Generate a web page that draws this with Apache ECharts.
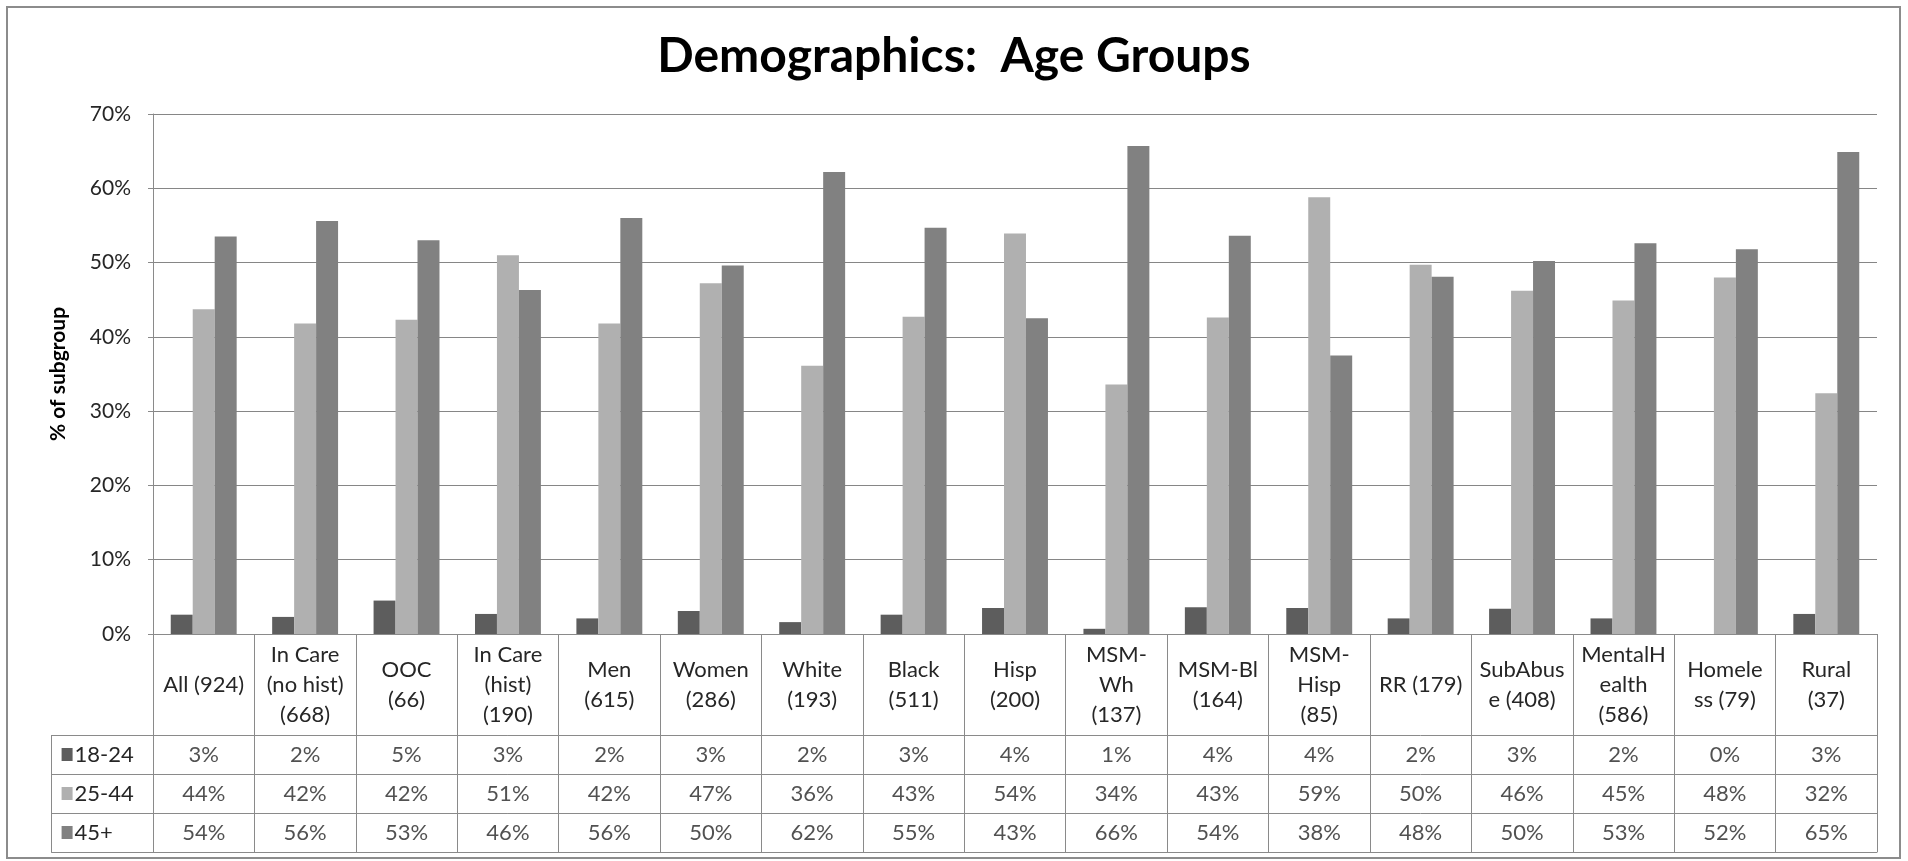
<!DOCTYPE html>
<html>
<head>
<meta charset="utf-8">
<script src="https://cdn.jsdelivr.net/npm/echarts@6/dist/echarts.min.js"></script>
<style>
  html, body { margin: 0; padding: 0; background: #ffffff; }
  #chart { width: 1908px; height: 861px; }
</style>
</head>
<body>
<div id="chart"></div>
<script>
// ---- Data ----
const categories = ['All (924)', 'In Care\n(no hist)\n(668)', 'OOC\n(66)', 'In Care\n(hist)\n(190)', 'Men\n(615)',
  'Women\n(286)', 'White\n(193)', 'Black\n(511)', 'Hisp\n(200)', 'MSM-\nWh\n(137)', 'MSM-Bl\n(164)',
  'MSM-\nHisp\n(85)', 'RR (179)', 'SubAbus\ne (408)', 'MentalH\nealth\n(586)', 'Homele\nss (79)', 'Rural\n(37)'];
const seriesNames = ['18-24', '25-44', '45+'];
const age18_24 = [2.6, 2.3, 4.5, 2.7, 2.1, 3.1, 1.6, 2.6, 3.5, 0.7, 3.6, 3.5, 2.1, 3.4, 2.1, 0, 2.7];
const age25_44 = [43.7, 41.8, 42.3, 51.0, 41.8, 47.2, 36.1, 42.7, 53.9, 33.6, 42.6, 58.8, 49.7, 46.2, 44.9, 48.0, 32.4];
const age45plus = [53.5, 55.6, 53.0, 46.3, 56.0, 49.6, 62.2, 54.7, 42.5, 65.7, 53.6, 37.5, 48.1, 50.2, 52.6, 51.8, 64.9];
const yTicks = { min: 0, max: 70, interval: 10 };
const titleText = 'Demographics:  Age Groups';
const yAxisTitle = '% of subgroup';

// ---- Styles ----
const colors = ['#5d5d5d', '#b0b0b0', '#818181'];
const FONT = 'Lato';
const textColor = '#262626';
const lineColor = '#8a8a8a';

const allSeriesValues = [age18_24, age25_44, age45plus];

const chart = echarts.init(document.getElementById('chart'), null, { renderer: 'canvas' });

const plotLeft = 153, plotRight = 31, plotTop = 114, plotBottomY = 634;
const headerH = 101, rowH = 39;
const colW = (1908 - plotLeft - plotRight) / categories.length;

const barSeries = seriesNames.map((name, i) => ({
  name: name,
  type: 'bar',
  xAxisIndex: 0,
  yAxisIndex: 0,
  data: allSeriesValues[i],
  barGap: '0%',
  barCategoryGap: '35%',
  itemStyle: { color: colors[i] },
  silent: true
}));

const tableSeries = seriesNames.map((name, i) => ({
  name: name + ' table',
  type: 'scatter',
  xAxisIndex: 1,
  yAxisIndex: 1,
  symbolSize: 1,
  itemStyle: { color: 'rgba(0,0,0,0)' },
  data: allSeriesValues[i].map((v, c) => [c + 0.5, name, v]),
  label: {
    show: true,
    position: 'inside',
    formatter: p => Math.round(p.value[2]) + '%',
    fontFamily: FONT,
    fontSize: 22,
    color: textColor
  },
  silent: true
}));

const rich = { t: { fontFamily: FONT, fontSize: 22, color: textColor, padding: [0, 0, 0, 2] } };
seriesNames.forEach((n, i) => { rich['k' + i] = { width: 11, height: 13, backgroundColor: colors[i] }; });

const option = {
  backgroundColor: '#ffffff',
  animation: false,
  title: {
    text: titleText,
    left: 'center',
    top: 28,
    textStyle: { fontFamily: FONT, fontSize: 48, fontWeight: 'bold', color: '#000000' }
  },
  grid: [
    { left: plotLeft, right: plotRight, top: plotTop, height: plotBottomY - plotTop, containLabel: false },
    { left: plotLeft - colW, right: plotRight, top: plotBottomY + headerH, height: rowH * 3, containLabel: false }
  ],
  xAxis: [
    {
      type: 'category',
      gridIndex: 0,
      data: categories,
      boundaryGap: true,
      axisLine: { show: true, lineStyle: { color: lineColor, width: 1 } },
      axisTick: { show: true, interval: 0, length: headerH, lineStyle: { color: lineColor, width: 1 } },
      axisLabel: {
        interval: 0,
        margin: headerH / 2,
        verticalAlign: 'middle',
        align: 'center',
        fontFamily: FONT,
        fontSize: 22,
        lineHeight: 30,
        color: textColor
      },
      splitLine: { show: false }
    },
    {
      type: 'value',
      gridIndex: 1,
      min: -1,
      max: categories.length,
      interval: 1,
      axisLine: { show: true, lineStyle: { color: lineColor } },
      axisTick: { show: false },
      axisLabel: { show: false },
      splitLine: { show: true, lineStyle: { color: lineColor, width: 1 } }
    }
  ],
  yAxis: [
    {
      type: 'value',
      gridIndex: 0,
      min: yTicks.min,
      max: yTicks.max,
      interval: yTicks.interval,
      name: yAxisTitle,
      nameLocation: 'middle',
      nameRotate: 90,
      nameGap: 84,
      nameTextStyle: { fontFamily: FONT, fontSize: 21, fontWeight: 'bold', color: '#000000' },
      axisLine: { show: true, lineStyle: { color: lineColor } },
      axisTick: { show: true, length: 5, lineStyle: { color: lineColor } },
      axisLabel: { formatter: '{value}%', fontFamily: FONT, fontSize: 21, color: textColor, margin: 22 },
      splitLine: { show: true, lineStyle: { color: '#868686', width: 1 } }
    },
    {
      type: 'category',
      gridIndex: 1,
      data: seriesNames,
      inverse: true,
      boundaryGap: true,
      axisLine: { show: true, lineStyle: { color: lineColor } },
      axisTick: { show: false },
      axisLabel: {
        inside: true,
        margin: 10,
        align: 'left',
        formatter: (v, i) => '{k' + i + '|}{t|' + v + '}',
        rich: rich
      },
      splitLine: { show: true, lineStyle: { color: lineColor, width: 1 } }
    }
  ],
  graphic: [
    {
      type: 'rect',
      shape: { x: 7, y: 7, width: 1893, height: 851 },
      style: { fill: 'none', stroke: '#8c8c8c', lineWidth: 2 },
      silent: true,
      z: 100
    }
  ],
  series: barSeries.concat(tableSeries)
};

chart.setOption(option);
</script>
</body>
</html>
